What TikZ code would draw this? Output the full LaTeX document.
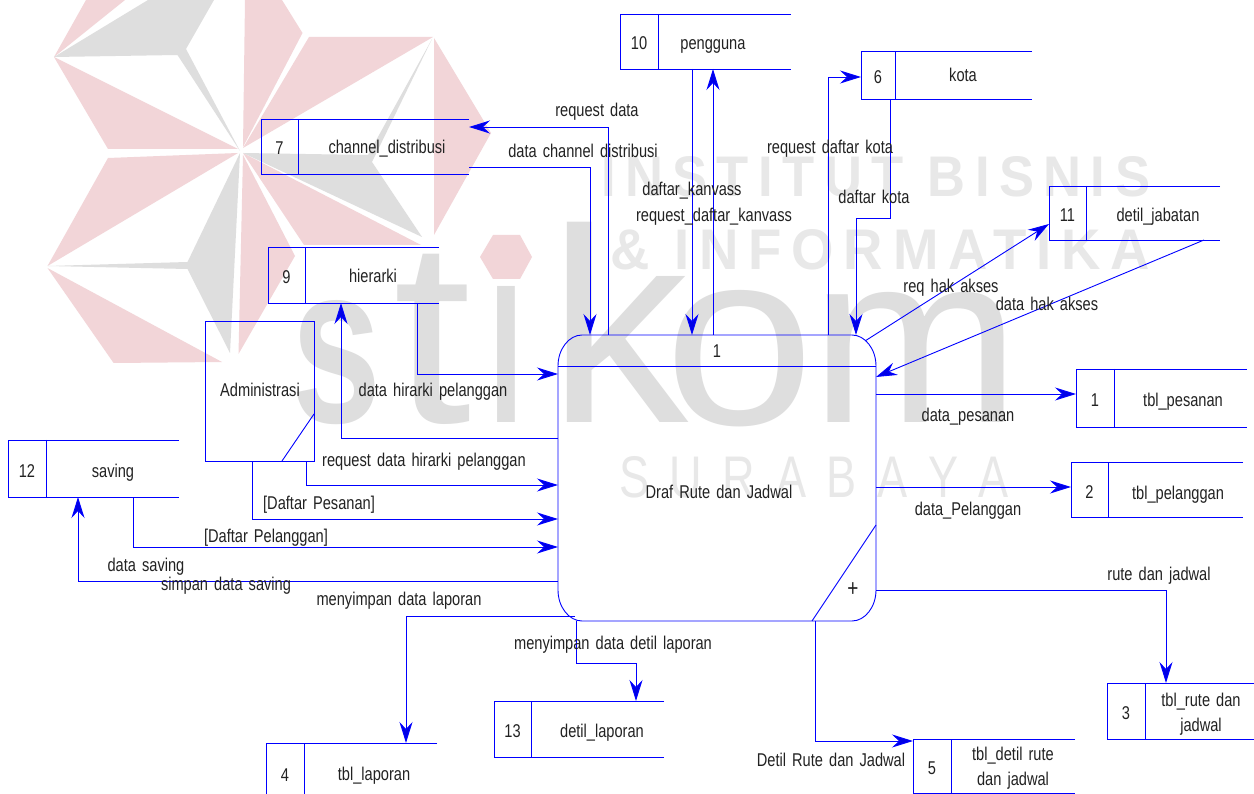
\documentclass[tikz,border=0pt]{standalone}
\usepackage{fontspec}
\usepackage{graphicx}
\setmainfont[FakeStretch=0.79,WordSpace=1.5]{Liberation Sans}
\newfontfamily\wmb{Liberation Sans}
\newfontfamily\wmsp[LetterSpace=18]{Liberation Sans}
\usetikzlibrary{arrows.meta}
\definecolor{wmpink}{HTML}{F2D5D8}
\definecolor{wmgray}{HTML}{DEDEDE}
\definecolor{wmlite}{HTML}{E8E8E8}
\definecolor{ink}{HTML}{222222}
\tikzset{
  line/.style={draw=blue,line width=0.9pt},
  flow/.style={line,-{Stealth[length=21pt,width=13pt,inset=7pt,fill=blue!90!black]}},
  lab/.style={text=ink,font=\fontsize{18.5}{25.5}\selectfont,inner sep=0pt,align=center,anchor=base},
  lab2/.style={lab,anchor=center},
  frame/.style={inner sep=0pt,outer sep=0pt},
  wm/.style={inner sep=0pt,outer sep=0pt,anchor=south west},
  pk/.style={fill=wmpink,draw=none},
  gy/.style={fill=wmgray,draw=none}
}
\newcommand\storebox[7]{% name,x1,x2,y1,y2,div,num
  \pgfmathsetmacro\sbw{#3-#2}\pgfmathsetmacro\sbh{#5-#4}
  \pgfmathsetmacro\sbx{(#2+#3)/2}\pgfmathsetmacro\sby{(#4+#5)/2}
  \pgfmathsetmacro\sbn{(#2+#6)/2}
  \node[frame,minimum width=\sbw pt,minimum height=\sbh pt] (#1) at (\sbx,\sby) {};
  \draw[line] (#1.north east) -- (#1.north west) -- (#1.south west) -- (#1.south east);
  \draw[line] (#1.north -| #6,0) -- (#1.south -| #6,0);
  \node[lab] (#1n) at (\sbn,\sby+8.5) {#7};
}
\begin{document}
\begin{tikzpicture}[x=1pt,y=-1pt]
\useasboundingbox (0,0) rectangle (1254,794);
\fill[white] (0,0) rectangle (1254,794);
% watermark star
\fill[pk] (54,57) -- (86,0) -- (125,0) -- cycle;
\fill[gy] (54,57) -- (148,0) -- (214,0) -- (186,49) -- (240,151) -- (177.5,55) -- cycle;
\fill[pk] (54,57) -- (108,149) -- (238,149) -- cycle;
\fill[pk] (238,153) -- (108,158) -- (47.5,266) -- cycle;
\fill[gy] (240,153) -- (187.5,262) -- (47.5,266) -- (187.5,269) -- (230,353) -- cycle;
\fill[pk] (47.5,268) -- (113.6,363) -- (222,362) -- cycle;
\fill[pk] (243,155) -- (295,256) -- (238.5,354) -- cycle;
\fill[pk] (243,153) -- (304,245) -- (421,245) -- cycle;
\fill[gy] (243,153) -- (368,155) -- (432,39) -- (372,162) -- (422,237) -- cycle;
\fill[pk] (434,38) -- (491,133) -- (434,235) -- cycle;
\fill[pk] (309,37) -- (433,37) -- (243,148) -- cycle;
\fill[pk] (245,0) -- (282,0) -- (302.5,33) -- (243,147) -- cycle;
\fill[pk] (480,257) -- (493,235) -- (520,235) -- (532,257) -- (520,279) -- (493,279) -- cycle;
% watermark text
\node[wm,text=wmgray] (wmA) at (291,425) {\resizebox{90pt}{122pt}{\wmb\bfseries s}};
\node[wm,text=wmgray] (wmB) at (393,425) {\resizebox{78pt}{168pt}{\wmb t}};
\node[wm,text=wmgray] (wmC) at (478,423) {\resizebox{56pt}{136pt}{\wmb ı}};
\node[wm,text=wmgray] (wmD) at (548,423) {\resizebox{140pt}{200pt}{\wmb k}};
\node[wm,text=wmgray] (wmE) at (664,427) {\resizebox{150pt}{134pt}{\wmb o}};
\node[wm,text=wmgray] (wmF) at (810,423) {\resizebox{210pt}{130pt}{\wmb m}};
\node[wm,text=wmlite] (wmG) at (601,197) {\resizebox{549pt}{40pt}{\wmsp\bfseries INSTITUT BISNIS}};
\node[wm,text=wmlite] (wmH) at (610,270) {\resizebox{540pt}{40pt}{\wmsp\bfseries \& INFORMATIKA}};
\node[wm,text=wmlite] (wmI) at (619,498) {\resizebox{390pt}{41pt}{\wmsp S U R A B A Y A}};
% process
\node[frame,minimum width=318pt,minimum height=286pt] (P) at (717,478) {};
\draw[line] (558,366) .. controls (558,349) and (569,335) .. (582,335) -- (852,335)
  .. controls (865,335) and (876,349) .. (876,366) -- (876,590)
  .. controls (876,607) and (865,621) .. (852,621) -- (582,621)
  .. controls (569,621) and (558,607) .. (558,590) -- cycle;
\draw[line] (P.west |- 0,366) -- (P.east |- 0,366);
\draw[line] (P.south -| 812,0) -- (P.east |- 0,525);
\node[lab] (Pn) at (717,358) {1};
\node[lab] (Pt) at (719,498) {Draf Rute dan Jadwal};
\node[lab,anchor=center,font=\fontsize{24}{26}\selectfont] (Pp) at (853,590) {+};
% entity
\node[frame,line,draw,minimum width=109pt,minimum height=140pt] (A) at (259.5,391) {};
\node[lab] (At) at (260,397) {Administrasi};
\draw[line] (A.south -| 282,0) -- (A.east |- 0,414);
% stores
\storebox{Sseven}{261}{469}{119}{174}{298}{7}
\node[lab] (Sfseven) at (387,154) {channel\_distribusi};
\storebox{Snine}{268}{439}{247}{303}{305}{9}
\node[lab] (Sfnine) at (373,283) {hierarki};
\storebox{Sten}{620}{791}{14}{69}{658}{10}
\node[lab] (Sften) at (713,49.5) {pengguna};
\storebox{Ssix}{861}{1032}{51}{99}{895}{6}
\node[lab] (Sfsix) at (963,82) {kota};
\storebox{Seleven}{1049}{1220}{186}{240}{1086}{11}
\node[lab] (Sfeleven) at (1158,222) {detil\_jabatan};
\storebox{Sone}{1076}{1247}{369}{427}{1114}{1}
\node[lab] (Sfone) at (1183,407) {tbl\_pesanan};
\storebox{Stwo}{1071}{1243}{462}{517}{1108}{2}
\node[lab] (Sftwo) at (1178,499) {tbl\_pelanggan};
\storebox{Sthree}{1107}{1254}{683}{739}{1145}{3}
\node[lab2] (Sfthree) at (1201,714) {tbl\_rute dan\\jadwal};
\storebox{Sfive}{913}{1075}{739}{793}{951}{5}
\node[lab2] (Sffive) at (1013,768) {tbl\_detil rute\\dan jadwal};
\storebox{Sthirteen}{494}{664}{701}{757}{531}{13}
\node[lab] (Sfthirteen) at (602,737.5) {detil\_laporan};
\storebox{Sfour}{266}{437}{743}{803}{304}{4}
\node[lab] (Sffour) at (374,780) {tbl\_laporan};
\storebox{Stwelve}{8}{179}{440}{497}{46}{12}
\node[lab] (Sftwelve) at (113,477.5) {saving};
% connectors
\draw[flow] (P.north -| 608,0) |- (Sseven.east |- 0,127);
\draw[flow] (Sseven.east |- 0,167) -| (P.north -| 590,0);
\draw[flow] (Sten.south -| 692,0) -- (P.north -| 692,0);
\draw[flow] (P.north -| 713,0) -- (Sten.south -| 713,0);
\draw[flow] (P.north -| 828,0) |- (Ssix.west |- 0,77);
\draw[flow] (Ssix.south -| 890,0) |- (856,218) -- (P.north -| 856,0);
\coordinate (Pcorner) at (865,341);
\draw[flow] (Pcorner) -- (Seleven.west |- 0,224);
\draw[flow] (Seleven.south -| 1204,0) -- (P.east |- 0,377);
\draw[flow] (P.east |- 0,394) -- (Sone.west |- 0,394);
\draw[flow] (P.east |- 0,487) -- (Stwo.west |- 0,487);
\draw[flow] (P.east |- 0,590) -| (Sthree.north -| 1166,0);
\draw[flow] (P.south -| 815.5,0) |- (Sfive.west |- 0,741);
\draw[flow] (Snine.south -| 417,0) |- (P.west |- 0,374);
\draw[flow] (P.west |- 0,438) -| (Snine.south -| 341,0);
\draw[flow] (A.south -| 306,0) |- (P.west |- 0,485);
\draw[flow] (A.south -| 252,0) |- (P.west |- 0,519);
\draw[flow] (Stwelve.south -| 133,0) |- (P.west |- 0,547);
\draw[flow] (P.west |- 0,581.5) -| (Stwelve.south -| 78,0);
\coordinate (Plow) at (574.5,616);
\draw[flow] (Plow) -| (Sfour.north -| 406,0);
\draw[flow] (P.south -| 576,0) |- (636,663) -- (Sthirteen.north -| 636,0);
% labels
\node[lab] (l1) at (597,116.7) {request data};
\node[lab] (l2) at (583,157.7) {data channel distribusi};
\node[lab] (l3) at (692,196) {daftar\_kanvass};
\node[lab] (l4) at (714,221.7) {request\_daftar\_kanvass};
\node[lab] (l5) at (830,154) {request daftar kota};
\node[lab] (l6) at (874,204) {daftar kota};
\node[lab] (l7) at (951,292.7) {req hak akses};
\node[lab] (l8) at (1047,310.7) {data hak akses};
\node[lab] (l9) at (968,422) {data\_pesanan};
\node[lab] (l10) at (968,515) {data\_Pelanggan};
\node[lab] (l11) at (1159,580) {rute dan jadwal};
\node[lab] (l12) at (433,397) {data hirarki pelanggan};
\node[lab] (l13) at (424,466.7) {request data hirarki pelanggan};
\node[lab] (l14) at (319,509) {[Daftar Pesanan]};
\node[lab] (l15) at (266,542.7) {[Daftar Pelanggan]};
\node[lab] (l16) at (146,571.7) {data saving};
\node[lab] (l17) at (226,590) {simpan data saving};
\node[lab] (l18) at (399,605.7) {menyimpan data laporan};
\node[lab] (l19) at (613,649) {menyimpan data detil laporan};
\node[lab] (l20) at (831,766) {Detil Rute dan Jadwal};
\end{tikzpicture}
\end{document}
